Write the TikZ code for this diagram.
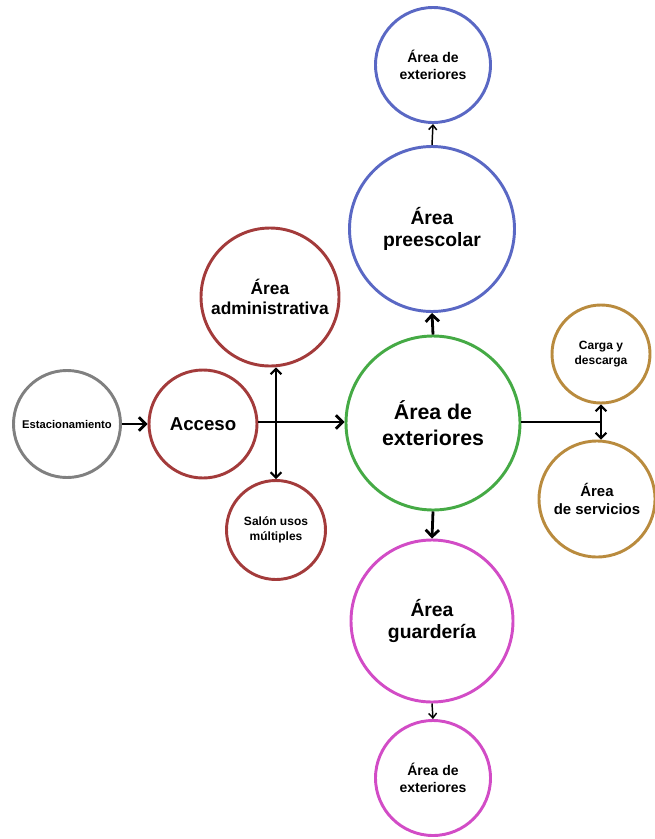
\documentclass[tikz,border=0pt]{standalone}
\usepackage{fontspec}
\setmainfont{Liberation Sans}
\usetikzlibrary{arrows.meta}
\definecolor{cgray}{HTML}{808080}
\definecolor{cred}{HTML}{A33B3B}
\definecolor{cblue}{HTML}{5A68C4}
\definecolor{cgreen}{HTML}{45AA45}
\definecolor{cmag}{HTML}{D24CC6}
\definecolor{corange}{HTML}{B98B3E}
\tikzset{
  area/.style={circle, draw, line width=2.2pt, align=center, inner sep=0pt, font=\bfseries, text=black},
  thickarrow/.style={line width=2.1pt, -{Straight Barb[length=5pt,width=10pt]}},
  thinarrow/.style={line width=1.1pt, -{Straight Barb[length=3.5pt,width=6pt]}},
  dblarrow/.style={line width=1.6pt, {Straight Barb[length=4pt,width=8pt]}-{Straight Barb[length=4pt,width=8pt]}},
  plain/.style={line width=1.6pt}
}
\begin{document}
\begin{tikzpicture}[x=0.75pt,y=-0.75pt]
\useasboundingbox (0,0) rectangle (655,839);
% nodes
\node[area, draw=cblue, minimum size=115*0.75pt, font=\bfseries\fontsize{10.5}{13}\selectfont] (bext) at (433,65) {Área de\\exteriores};
\node[area, draw=cblue, minimum size=165*0.75pt, font=\bfseries\fontsize{14.5}{17}\selectfont] (pre) at (432,229) {Área\\preescolar};
\node[area, draw=cgreen, minimum size=174*0.75pt, font=\bfseries\fontsize{16}{19}\selectfont] (ext) at (433,423) {Área de\\exteriores};
\node[area, draw=cmag, minimum size=162*0.75pt, font=\bfseries\fontsize{14.5}{17}\selectfont] (gua) at (432,621) {Área\\guardería};
\node[area, draw=cmag, minimum size=115*0.75pt, font=\bfseries\fontsize{10.5}{13}\selectfont] (mext) at (433,778) {Área de\\exteriores};
\node[area, draw=cred, minimum size=138*0.75pt, font=\bfseries\fontsize{13}{14.5}\selectfont] (adm) at (270,297) {Área\\administrativa};
\node[area, draw=cred, minimum size=108*0.75pt, font=\bfseries\fontsize{14}{16}\selectfont] (acc) at (203,424) {Acceso};
\node[area, draw=cgray, minimum size=107*0.75pt, font=\bfseries\fontsize{8.4}{10}\selectfont] (est) at (67,424) {Estacionamiento};
\node[area, draw=cred, minimum size=99*0.75pt, font=\bfseries\fontsize{9}{11}\selectfont] (sal) at (276,530) {Salón usos\\múltiples};
\node[area, draw=corange, minimum size=98*0.75pt, font=\bfseries\fontsize{9}{11}\selectfont] (car) at (601,354) {Carga y\\descarga};
\node[area, draw=corange, minimum size=116*0.75pt, font=\bfseries\fontsize{11.2}{13}\selectfont] (ser) at (597,499) {Área\\de servicios};
% junction coordinates
\coordinate (jv) at (276,422);
\coordinate (jr) at (601,422);
% connectors
\draw[thickarrow] (est.east) -- (acc.west);
\draw[thickarrow] (acc.east |- 0,422) -- (ext.west |- 0,422);
\draw[dblarrow] (adm.south -| jv) -- (sal.north -| jv);
\draw[thickarrow] (ext.north) -- (pre.south);
\draw[thinarrow] (pre.north) -- (bext.south);
\draw[thickarrow] (ext.south) -- (gua.north);
\draw[thinarrow] (gua.south) -- (mext.north);
\draw[plain] (ext.east |- jr) -- (jr);
\draw[dblarrow] (car.south) -- (car.south |- ser.north);
\end{tikzpicture}
\end{document}
